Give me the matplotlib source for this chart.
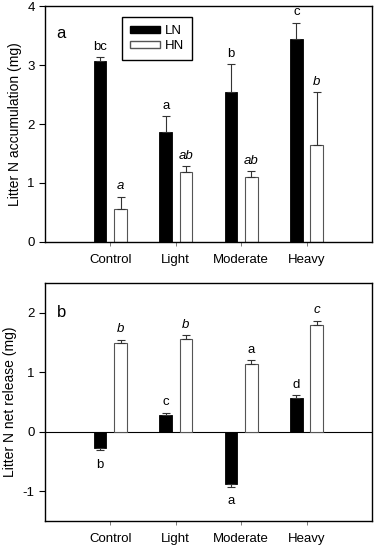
import numpy as np
import matplotlib
matplotlib.use("Agg")
import matplotlib.pyplot as plt
from matplotlib.patches import Patch

plt.rcParams['font.family'] = ['Liberation Sans', 'DejaVu Sans']
plt.rcParams['axes.unicode_minus'] = False

# -----------------------------
# Datos
# -----------------------------
categorias = ["Control", "Light", "Moderate", "Heavy"]

acum_ln = [3.06, 1.86, 2.54, 3.44]
acum_ln_err = [0.08, 0.28, 0.48, 0.28]
acum_hn = [0.56, 1.18, 1.10, 1.64]
acum_hn_err = [0.21, 0.10, 0.10, 0.90]
acum_ln_let = ["bc", "a", "b", "c"]
acum_hn_let = ["a", "ab", "ab", "b"]

lib_ln = [-0.27, 0.28, -0.87, 0.57]
lib_ln_err = [0.04, 0.04, 0.05, 0.04]
lib_hn = [1.49, 1.56, 1.14, 1.80]
lib_hn_err = [0.06, 0.06, 0.06, 0.06]
lib_ln_let = ["b", "c", "a", "d"]
lib_hn_let = ["b", "b", "a", "c"]
lib_hn_italic = [True, True, False, True]

# -----------------------------
# Figura
# -----------------------------
fig = plt.figure(figsize=(3.78, 5.47), dpi=100)
ax1 = fig.add_axes([0.119, 0.5576, 0.865, 0.4314])
ax2 = fig.add_axes([0.119, 0.0475, 0.865, 0.4351])

x = np.arange(1, len(categorias) + 1)
ancho = 0.19
desp = 0.155
fs = 9.5


def dibujar_barras(ax, ln, ln_err, hn, hn_err, ylim):
    for xi, v, e in zip(x - desp, ln, ln_err):
        ax.bar(xi, v, ancho, color="black", edgecolor="black", linewidth=0.6, zorder=2)
        ax.errorbar(xi, v, yerr=[[0], [e]] if v >= 0 else [[e], [0]], fmt="none",
                    ecolor="#333333", elinewidth=0.8, capsize=3, capthick=0.8, zorder=3)
    for xi, v, e in zip(x + desp, hn, hn_err):
        ax.bar(xi, v, ancho, color="white", edgecolor="#555555", linewidth=0.8, zorder=2)
        ax.errorbar(xi, v, yerr=[[0], [e]], fmt="none",
                    ecolor="#333333", elinewidth=0.8, capsize=3, capthick=0.8, zorder=3)
    ax.set_xlim(0.0, 5.0)
    ax.set_ylim(*ylim)
    ax.set_xticks(x)
    ax.set_xticklabels(categorias, fontsize=fs)
    ax.tick_params(axis="x", length=3, width=0.6, color="#666666", pad=5.5)
    ax.tick_params(axis="y", length=4, width=0.8, labelsize=fs)
    for s in ax.spines.values():
        s.set_linewidth(1.0)


# Panel a
dibujar_barras(ax1, acum_ln, acum_ln_err, acum_hn, acum_hn_err, (0, 4))
ax1.set_yticks([0, 1, 2, 3, 4])
ax1.set_ylabel("Litter N accumulation (mg)", fontsize=fs + 0.5, labelpad=4)
for xi, v, e, t in zip(x - desp, acum_ln, acum_ln_err, acum_ln_let):
    ax1.text(xi, v + e + 0.07, t, ha="center", va="bottom", fontsize=fs)
for xi, v, e, t in zip(x + desp, acum_hn, acum_hn_err, acum_hn_let):
    ax1.text(xi, v + e + 0.07, t, ha="center", va="bottom", fontsize=fs, style="italic")
ax1.text(0.25, 3.54, "a", fontsize=12, ha="center", va="center")
ax1.legend(handles=[Patch(facecolor="black", edgecolor="black", label="LN"),
                    Patch(facecolor="white", edgecolor="#555555", label="HN")],
           loc="upper left", bbox_to_anchor=(0.236, 0.953), fontsize=fs,
           frameon=True, fancybox=False, edgecolor="black", framealpha=1,
           handlelength=2.3, handleheight=0.5, borderpad=0.6, labelspacing=0.25,
           handletextpad=0.35, borderaxespad=0)

# Panel b
dibujar_barras(ax2, lib_ln, lib_ln_err, lib_hn, lib_hn_err, (-1.5, 2.5))
ax2.axhline(0, color="black", linewidth=0.8, zorder=1)
ax2.set_yticks([-1, 0, 1, 2])
ax2.set_ylabel("Litter N net release (mg)", fontsize=fs + 0.5, labelpad=4)
for xi, v, e, t in zip(x - desp, lib_ln, lib_ln_err, lib_ln_let):
    if v >= 0:
        ax2.text(xi, v + e + 0.08, t, ha="center", va="bottom", fontsize=fs)
    else:
        ax2.text(xi, v - e - 0.15, t, ha="center", va="top", fontsize=fs)
for xi, v, e, t, it in zip(x + desp, lib_hn, lib_hn_err, lib_hn_let, lib_hn_italic):
    ax2.text(xi, v + e + 0.08, t, ha="center", va="bottom", fontsize=fs,
             style="italic" if it else "normal")
ax2.text(0.25, 2.0, "b", fontsize=12, ha="center", va="center")

fig.savefig("out.png", dpi=100)
